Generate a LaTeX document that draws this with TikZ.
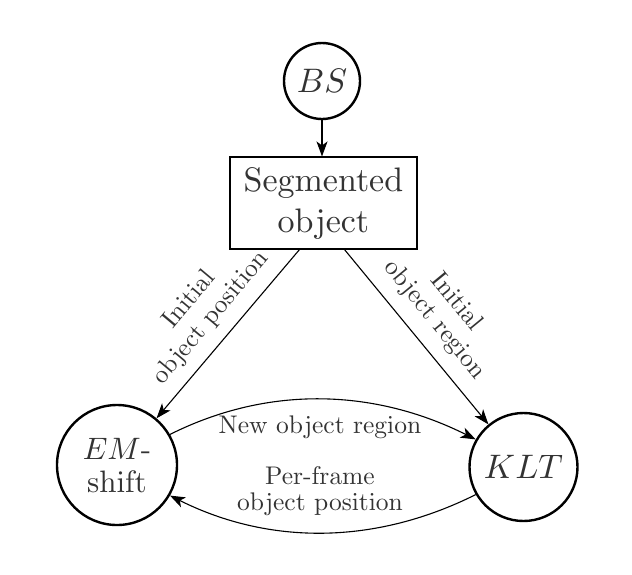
\documentclass[tikz,border=0pt]{standalone}
\DeclareFontShape{OML}{cmm}{m}{it}{<->cmmi10}{\skewchar\font127}
\DeclareFontShape{OMS}{cmsy}{m}{n}{<->cmsy10}{\skewchar\font48}
\DeclareFontShape{OT1}{cmr}{m}{n}{<->cmr10}{}
\newcommand{\cmrsize}[2]{\fontencoding{OT1}\fontfamily{cmr}\fontseries{m}\fontshape{n}\fontsize{#1}{#2}\selectfont}
\usetikzlibrary{arrows.meta}
\begin{document}
\begin{tikzpicture}[x=1pt,y=-1pt,
  bigfont/.style={font=\cmrsize{34}{41}},
  smallfont/.style={font=\cmrsize{25.5}{26}},
  statecirc/.style={draw, circle, line width=2.4pt, inner sep=0pt, align=center, text=black!80},
  procbox/.style={draw, line width=1.1pt, align=center, bigfont, minimum width=187pt, minimum height=92pt, inner sep=0pt, text=black!80},
  flow/.style={line width=1.1pt, -{Stealth[length=15pt,width=11pt,inset=4pt]}},
  lbl/.style={smallfont, align=center, text=black!80, inner sep=0pt},
  slbl/.style={font=\cmrsize{25.5}{28}, align=center, text=black!80, inner sep=0pt}
]
\useasboundingbox (0,0) rectangle (632,574);

\node[statecirc, bigfont, minimum size=76pt] (bs) at (322,81) {$BS$};
\node[procbox] (seg) at (323.5,203) {Segmented\\object};
\node[statecirc, font=\cmrsize{31}{33}, minimum size=120pt] (em) at (117,465) {$EM$-\\shift};
\node[statecirc, bigfont, minimum size=108pt] (klt) at (523.5,467) {$KLT$};

\draw[flow] (bs.south) -- (bs.south |- seg.north);
\draw[flow] ([xshift=-24pt]seg.south) -- (em);
\draw[flow] ([xshift=21pt]seg.south) -- (klt);

\draw[flow] (em.30) .. controls +(100,-50) and +(-100,-50) .. (klt.150);
\draw[flow] (klt.-150) .. controls +(-100,50) and +(100,50) .. (em.-30);

\node[slbl, rotate=50] (l1) at (200,309) {Initial\\object position};
\node[slbl, rotate=-50.6] (l2) at (445,311) {Initial\\object region};
\node[lbl] (l3) at (320,427) {New object region};
\node[lbl] (l4) at (320,491) {Per-frame\\object position};
\end{tikzpicture}
\end{document}
